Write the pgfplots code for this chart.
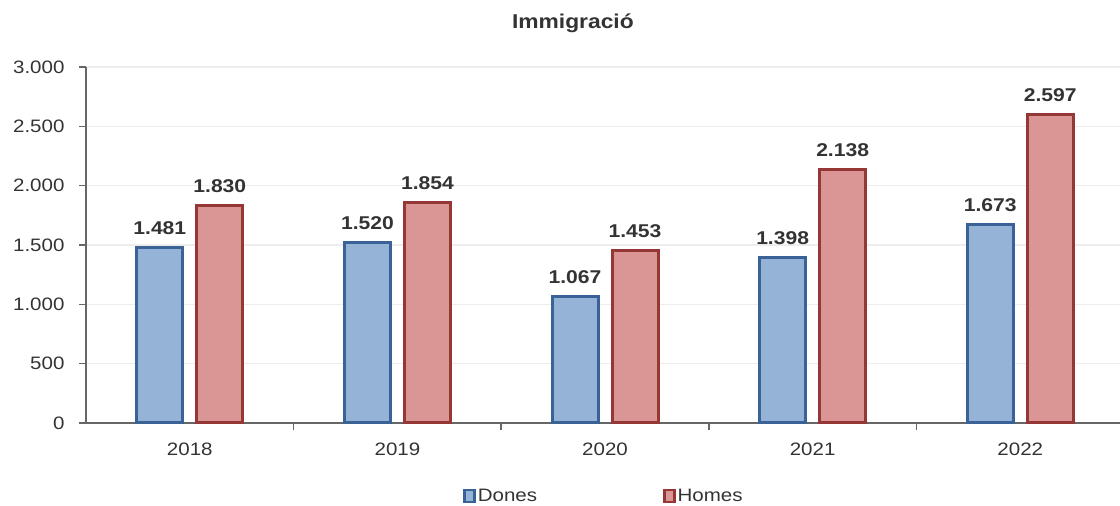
\documentclass[border=0pt]{standalone}
\usepackage{pgfplots}
\pgfplotsset{compat=1.18}
\usepackage{fontspec}
\setmainfont[FakeStretch=1.14]{Liberation Sans}
\definecolor{donesfill}{HTML}{95B3D7}
\definecolor{donesedge}{HTML}{3A6297}
\definecolor{homesfill}{HTML}{D99694}
\definecolor{homesedge}{HTML}{953735}
\definecolor{txt}{HTML}{333333}
\definecolor{axl}{HTML}{666666}
\definecolor{gridc}{HTML}{EDEDED}
\begin{document}
\begin{tikzpicture}
\useasboundingbox (0,0) rectangle (1120pt,506pt);
\begin{axis}[
  at={(86pt,83pt)}, anchor=south west,
  scale only axis, width=1036pt, height=356pt,
  xmin=-0.5, xmax=4.49, ymin=0, ymax=3000,
  axis x line*=bottom, axis y line*=left,
  axis line style={draw=axl, line width=1.8pt},
  xtick={0,1,2,3,4},
  xticklabels={2018,2019,2020,2021,2022},
  minor xtick={0.5,1.5,2.5,3.5},
  major x tick style={draw=none},
  minor x tick style={draw=axl, line width=1.5pt},
  minor tick length=7pt,
  ytick={0,500,...,3000},
  y tick style={draw=axl, line width=1.5pt},
  major tick length=7pt,
  tick align=outside,
  ymajorgrids, grid style={draw=gridc, line width=1.5pt},
  /pgf/number format/assume math mode=true,
  /pgf/number format/1000 sep={.},
  ticklabel style={font=\fontsize{18}{21}\selectfont, text=txt},
  yticklabel style={xshift=-11pt},
  xticklabel style={yshift=-9pt},
  title={\textbf{Immigració}},
  title style={at={(axis description cs:0.47,1.105)}, anchor=center, font=\fontsize{20}{24}\selectfont, text=txt},
  legend style={at={(axis description cs:0.5,-0.205)}, anchor=center, draw=none, fill=none,
    legend columns=2, font=\fontsize{18}{21}\selectfont, text=txt,
    /tikz/every even column/.style={column sep=124pt}},
  legend image code/.code={\draw[#1, line width=2.5pt] (0pt,-6pt) rectangle (10pt,6pt);},
  nodes near coords,
  nodes near coords style={font=\fontsize{18.5}{22}\selectfont\bfseries, text=txt, yshift=8pt},
  clip=false,
]
\addplot[ybar, bar width=46pt, bar shift=-30pt, fill=donesfill, draw=donesedge, line width=3pt,
  every node near coord/.append style={xshift=-30pt}]
  coordinates {(0,1481) (1,1520) (2,1067) (3,1398) (4,1673)};
\addlegendentry{Dones}
\addplot[ybar, bar width=46pt, bar shift=30pt, fill=homesfill, draw=homesedge, line width=3pt,
  every node near coord/.append style={xshift=30pt}]
  coordinates {(0,1830) (1,1854) (2,1453) (3,2138) (4,2597)};
\addlegendentry{Homes}
\end{axis}
\end{tikzpicture}
\end{document}
